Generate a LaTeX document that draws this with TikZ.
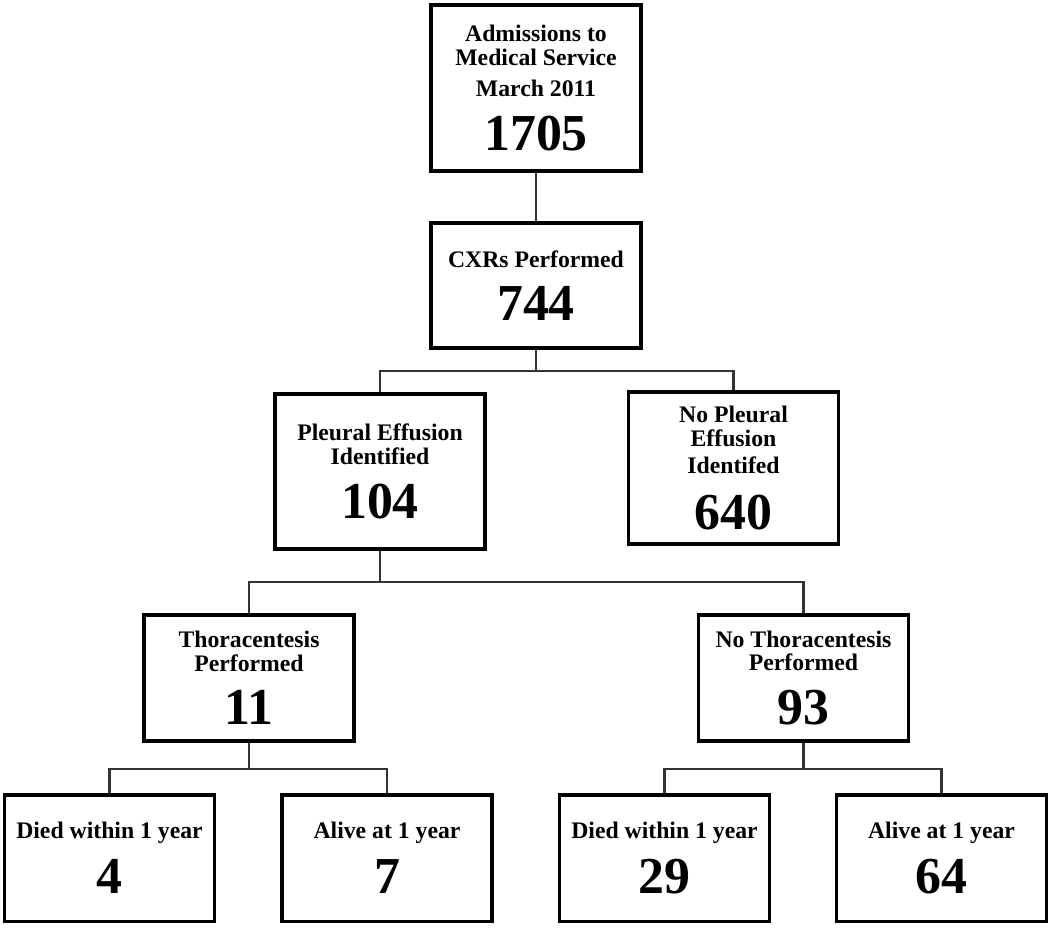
\documentclass[tikz,border=0pt]{standalone}
\usepackage{fontspec}
\setmainfont{Liberation Serif}

\newcommand{\lblfont}{\fontsize{13.5}{13.5}\selectfont\bfseries}
\newcommand{\numfont}{\fontsize{29.5}{13.5}\selectfont\bfseries}

\begin{document}
\begin{tikzpicture}[x=0.02cm, y=-0.02cm,
    box/.style={draw=black, line width=2pt, align=center, inner sep=0pt,
      minimum width=4.2cm, font=\lblfont},
    link/.style={draw=black!80, line width=1.5pt}]
  \useasboundingbox (0,0) rectangle (1050,927);
  % boxes
  \node[box, minimum height=3.33cm] (adm) at (536,88)
    {Admissions to\\Medical Service\\[4pt]March 2011\\[10pt]{\numfont 1705}};
  \node[box, minimum height=2.51cm] (cxr) at (536,285.5)
    {CXRs Performed\\[10pt]{\numfont 744}};
  \node[box, minimum height=3.11cm] (pe) at (380,471.5)
    {Pleural Effusion\\Identified\\[10pt]{\numfont 104}};
  \node[box, minimum height=3.05cm] (nope) at (733.5,468)
    {No Pleural\\Effusion\\[2pt]Identifed\\[11pt]{\numfont 640}};
  \node[box, minimum height=2.53cm] (thor) at (249,678)
    {Thoracentesis\\Performed\\[10pt]{\numfont 11}};
  \node[box, minimum height=2.53cm] (nothor) at (803.5,678)
    {No Thoracentesis\\Performed\\[10pt]{\numfont 93}};
  \node[box, minimum height=2.53cm] (tdied) at (109.5,858)
    {Died within 1 year\\[8pt]{\numfont 4}};
  \node[box, minimum height=2.53cm] (talive) at (387,858)
    {Alive at 1 year\\[8pt]{\numfont 7}};
  \node[box, minimum height=2.53cm] (ndied) at (664.5,858)
    {Died within 1 year\\[8pt]{\numfont 29}};
  \node[box, minimum height=2.53cm] (nalive) at (941.5,858)
    {Alive at 1 year\\[8pt]{\numfont 64}};
  % branch points
  \coordinate (j1) at (536,371);
  \coordinate (j2) at (380,582);
  \coordinate (j3) at (249,769);
  \coordinate (j4) at (803.5,769);
  % connectors
  \draw[link] (adm.south) -- (cxr.north);
  \draw[link] (cxr.south) -- (j1) -| (pe.north);
  \draw[link] (j1) -| (nope.north);
  \draw[link] (pe.south) -- (j2) -| (thor.north);
  \draw[link] (j2) -| (nothor.north);
  \draw[link] (thor.south) -- (j3) -| (tdied.north);
  \draw[link] (j3) -| (talive.north);
  \draw[link] (nothor.south) -- (j4) -| (ndied.north);
  \draw[link] (j4) -| (nalive.north);
\end{tikzpicture}
\end{document}
